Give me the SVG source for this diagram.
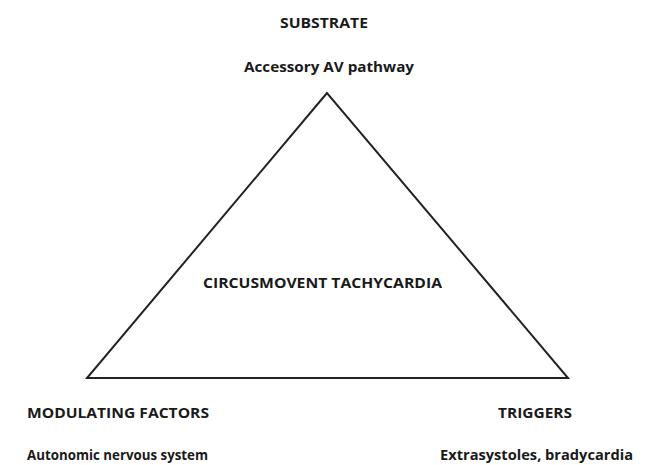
<svg xmlns="http://www.w3.org/2000/svg" width="646" height="465" viewBox="0 0 646 465">
<style>
.t{font-family:"Open Sans","Liberation Sans",sans-serif;font-weight:bold;font-size:14px;fill:#1a1a1a}
.edge{fill:none;stroke:#222;stroke-width:2}
</style>
<rect width="646" height="465" fill="#fff"/>
<g id="connectors">
<polygon class="edge" points="327,93 87,378 568,378"/>
</g>
<g id="substrate">
<text class="t" x="280" y="28" textLength="88" lengthAdjust="spacingAndGlyphs">SUBSTRATE</text>
<text class="t" x="244" y="72" textLength="170" lengthAdjust="spacingAndGlyphs">Accessory AV pathway</text>
</g>
<g id="center">
<text class="t" x="203" y="288" textLength="239" lengthAdjust="spacingAndGlyphs">CIRCUSMOVENT TACHYCARDIA</text>
</g>
<g id="modulating">
<text class="t" x="27" y="418" textLength="182" lengthAdjust="spacingAndGlyphs">MODULATING FACTORS</text>
<text class="t" x="27" y="460" textLength="181" lengthAdjust="spacingAndGlyphs">Autonomic nervous system</text>
</g>
<g id="triggers">
<text class="t" x="498" y="418" textLength="74" lengthAdjust="spacingAndGlyphs">TRIGGERS</text>
<text class="t" x="440" y="460" textLength="193" lengthAdjust="spacingAndGlyphs">Extrasystoles, bradycardia</text>
</g>
</svg>
